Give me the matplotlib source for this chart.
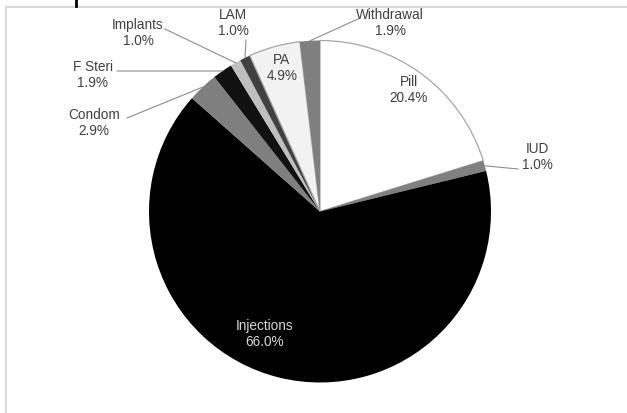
import matplotlib
matplotlib.use('Agg')
import matplotlib.pyplot as plt
import numpy as np

categories = ['Pill', 'IUD', 'Injections', 'Condom', 'F Steri', 'Implants', 'LAM', 'PA', 'Withdrawal']
values = [20.4, 1.0, 66.0, 2.9, 1.9, 1.0, 1.0, 4.9, 1.9]
colors = ['#ffffff', '#808080', '#000000', '#7f7f7f', '#111111', '#bfbfbf', '#404040', '#f2f2f2', '#7f7f7f']

# label text centres (pixel coords, origin top-left) and leader anchors
label_pos = {
    'Pill': (409, 90), 'IUD': (537, 157), 'Injections': (265, 334), 'Condom': (94, 123),
    'F Steri': (93, 75), 'Implants': (138, 33), 'LAM': (233, 23), 'PA': (282, 68),
    'Withdrawal': (390, 23),
}
leader_anchor = {
    'IUD': (518, 169), 'Condom': (127, 118), 'F Steri': (117, 71),
    'Implants': (165, 29), 'LAM': (246, 40), 'Withdrawal': (358, 19),
}

W, H = 627, 413
fig = plt.figure(figsize=(W / 100, H / 100), dpi=100)
ax = fig.add_axes([0, 0, 1, 1])
cx, cy, R = 320, H - 211.5, 171
wedges, _ = ax.pie(values, colors=colors, startangle=90, counterclock=False,
                   center=(cx, cy), radius=R, frame=True,
                   wedgeprops=dict(linewidth=0))
for w, c in zip(wedges, categories):
    if c in ('Pill', 'PA'):
        w.set_edgecolor('#a6a6a6')
        w.set_linewidth(0.9)
ax.set_xlim(0, W)
ax.set_ylim(0, H)
ax.set_aspect('equal')
ax.axis('off')

for w, c, v in zip(wedges, categories, values):
    tx, ty = label_pos[c]
    col = '#d9d9d9' if c == 'Injections' else '#404040'
    ax.text(tx, H - ty, f'{c}\n{v:.1f}%', ha='center', va='center', fontsize=9.8,
            color=col, family='Liberation Sans', linespacing=1.22)
    if c in leader_anchor:
        th = np.deg2rad((w.theta1 + w.theta2) / 2)
        px, py = cx + R * np.cos(th), cy + R * np.sin(th)
        ax_, ay_ = leader_anchor[c]
        ax.plot([ax_, px], [H - ay_, py], color='#8c8c8c', lw=0.8, zorder=3)

# chart area border (top and left only visible) and tick mark
ax.plot([5.5, W + 5], [H - 6.5, H - 6.5], color='#d9d9d9', lw=1.5, clip_on=False)
ax.plot([5.5, 5.5], [H - 6.5, -5], color='#d9d9d9', lw=1.5, clip_on=False)
ax.plot([75.5, 75.5], [H - 6, H + 2], color='black', lw=2, clip_on=False)

fig.savefig('out.png', dpi=100)
